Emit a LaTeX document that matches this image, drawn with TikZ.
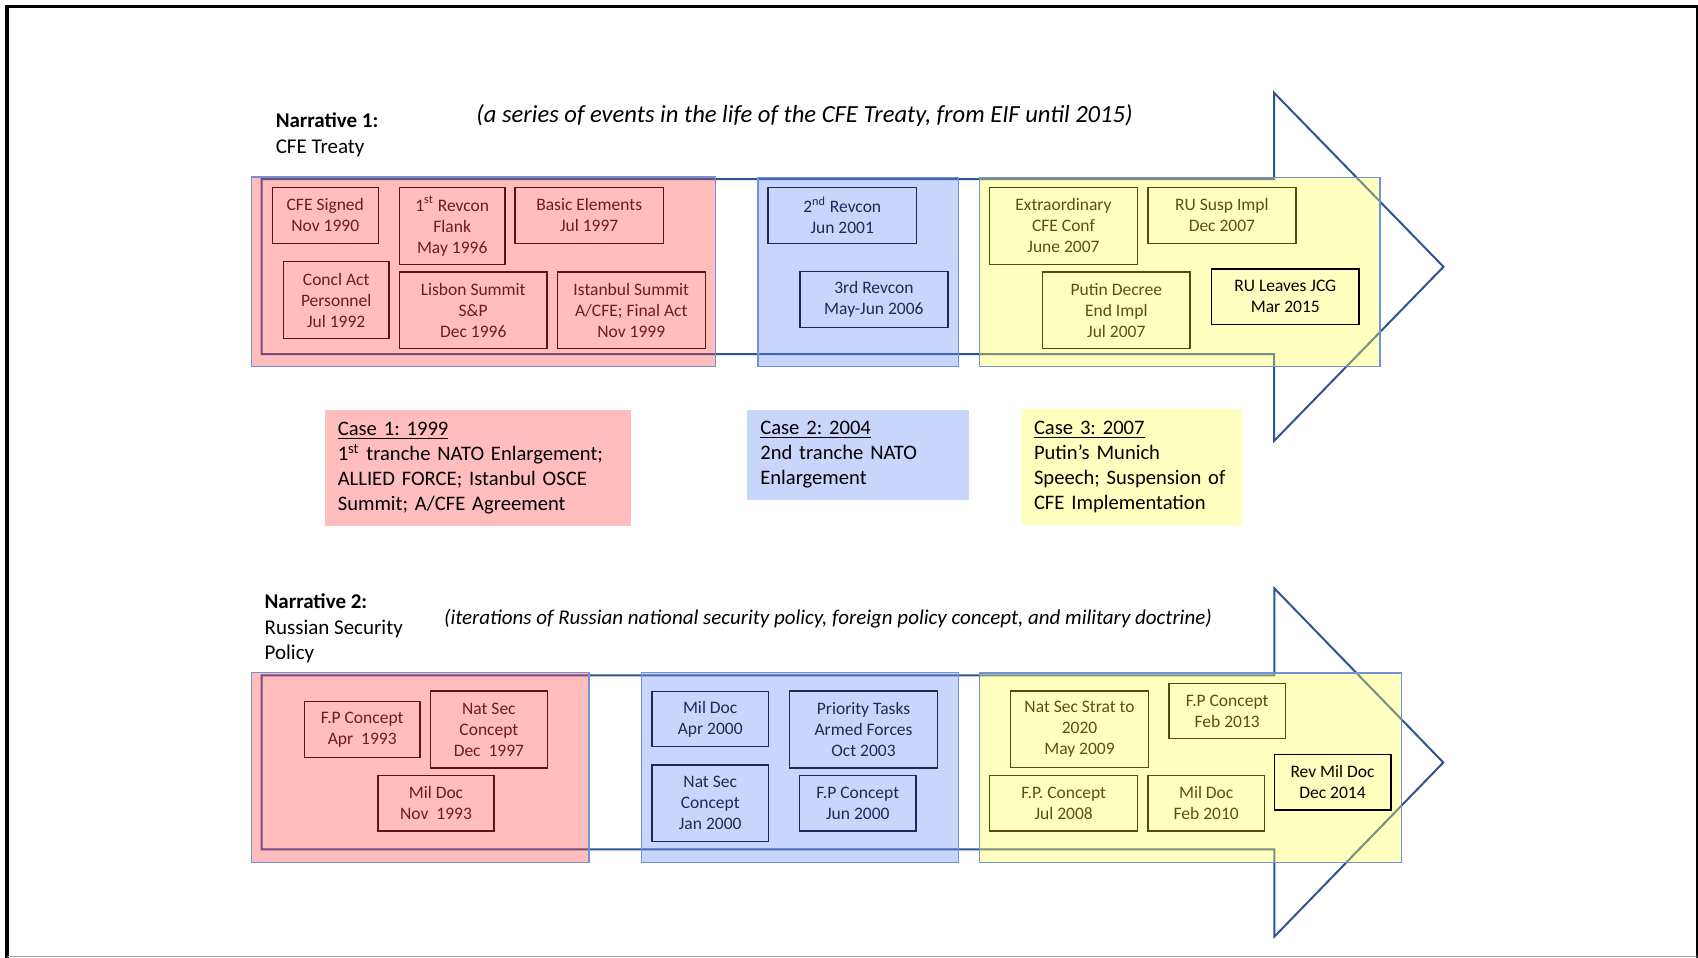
\documentclass[tikz,border=0pt]{standalone}
\usepackage{fontspec}
\setmainfont{Carlito}
\frenchspacing
\newcommand{\evfont}{\fontsize{8.75}{10.5}\selectfont}
\newcommand{\casefont}{\fontsize{10.3}{12.5}\selectfont}

\tikzset{every picture/.style={line width=0.75pt}}
\tikzset{
  sz/.style 2 args={minimum width=#1*0.5pt, minimum height=#2*0.5pt},
  evred/.style={draw={rgb, 255:red, 96; green, 18; blue, 18}, text={rgb, 255:red, 112; green, 26; blue, 26}, line width=0.7pt, inner sep=0pt, align=center, font=\evfont},
  evblue/.style={draw={rgb, 255:red, 30; green, 40; blue, 92}, text={rgb, 255:red, 30; green, 40; blue, 92}, line width=0.7pt, inner sep=0pt, align=center, font=\evfont},
  evyel/.style={draw={rgb, 255:red, 80; green, 76; blue, 14}, text={rgb, 255:red, 86; green, 82; blue, 18}, line width=0.7pt, inner sep=0pt, align=center, font=\evfont},
  evblack/.style={draw=black, text=black, line width=0.8pt, inner sep=0pt, align=center, font=\evfont},
  bgred/.style={fill={rgb, 255:red, 255; green, 66; blue, 66}, fill opacity=0.35, draw={rgb, 255:red, 114; green, 146; blue, 214}, line width=0.6pt},
  bgblue/.style={fill={rgb, 255:red, 98; green, 138; blue, 246}, fill opacity=0.35, draw={rgb, 255:red, 114; green, 146; blue, 214}, line width=0.6pt},
  bgyel/.style={fill={rgb, 255:red, 255; green, 255; blue, 75}, fill opacity=0.35, draw={rgb, 255:red, 114; green, 146; blue, 214}, line width=0.6pt},
  casebox/.style={inner xsep=6.5pt, inner ysep=0pt, align=left, text=black, font=\casefont},
  bigarrow/.style={draw={rgb, 255:red, 47; green, 84; blue, 150}, line width=1pt},
  title/.style={inner sep=0pt, align=left, anchor=west}
}

\begin{document}
\begin{tikzpicture}[x=0.5pt,y=0.5pt,yscale=-1,xscale=1]
\useasboundingbox (0,0) rectangle (1698,958);

%Shape: Frame
\draw [line width=1.75pt] (6.8,958) -- (6.8,6.7) -- (1698,6.7) ;
\draw [line width=1pt] (1697,6.7) -- (1697,958) ;
\draw [color={rgb, 255:red, 160; green, 160; blue, 160 }, line width=0.5pt] (6.8,956.8) -- (1697,956.8) ;

%Shape: Right Arrow (narrative 1)
\draw [bigarrow] (261.7,179) -- (1274,179) -- (1274,92.7) -- (1443.5,266.8) -- (1274,441) -- (1274,354) -- (261.7,354) -- cycle ;
%Shape: Right Arrow (narrative 2)
\draw [bigarrow] (261.6,675.3) -- (1274.3,675.3) -- (1274.3,588.3) -- (1443.3,762.5) -- (1274.3,936.7) -- (1274.3,849.3) -- (261.6,849.3) -- cycle ;

%Shape: Rectangle
\draw [bgred] (251.7,177) rectangle (715.7,366.7) ;
\draw [bgblue] (757.9,177.7) rectangle (958.3,366.7) ;
\draw [bgyel] (979.7,177.7) rectangle (1380,366.7) ;
%Shape: Rectangle
\draw [bgred] (251.5,672.7) rectangle (589,862.7) ;
\draw [bgblue] (641.7,672.7) rectangle (958.4,862.7) ;
\draw [bgyel] (979.7,673) rectangle (1401.3,862.3) ;

% Text Node
\node [title, font=\fontsize{10.5}{13.2}\selectfont] (nar1) at (275,134.9) {\textbf{Narrative 1:}\\CFE Treaty};
\node [title, font=\fontsize{12.3}{14}\selectfont\itshape] (sub1) at (475.7,115) {(a series of events in the life of the CFE Treaty, from EIF until 2015)};
\node [title, font=\fontsize{10.5}{12.6}\selectfont] (nar2) at (263.9,628.5) {\textbf{Narrative 2:}\\Russian Security\\Policy};
\node [title, font=\fontsize{10.5}{12}\selectfont\itshape] (sub2) at (443.4,618.3) {(iterations of Russian national security policy, foreign policy concept, and military doctrine)};

% Events: narrative 1
\node [evred, sz={106}{56}] (cfesig) at (325.3,215.3) {CFE Signed\\Nov 1990};
\node [evred, sz={105.7}{77}] (revone) at (452.2,225.8) {1\textsuperscript{st} Revcon\\Flank\\May 1996};
\node [evred, sz={148.3}{56}] (basic) at (589.2,215.3) {Basic Elements\\Jul 1997};
\node [evred, sz={105.7}{76.6}] (concl) at (336.2,300) {Concl Act\\Personnel\\Jul 1992};
\node [evred, sz={147.7}{76.7}] (lisbon) at (473.2,310.3) {Lisbon Summit\\S\&P\\Dec 1996};
\node [evred, sz={148}{76.7}] (istanbul) at (631.3,310.3) {Istanbul Summit\\A/CFE; Final Act\\Nov 1999};
\node [evblue, sz={148.3}{56}] (revtwo) at (842.2,215.3) {2\textsuperscript{nd} Revcon\\Jun 2001};
\node [evblue, sz={148.2}{55.6}] (revthree) at (873.9,299.5) {3rd Revcon\\May-Jun 2006};
\node [evyel, sz={147.7}{77}] (extra) at (1063.5,225.8) {Extraordinary\\CFE Conf\\June 2007};
\node [evyel, sz={147.8}{56}] (susp) at (1221.9,215.3) {RU Susp Impl\\Dec 2007};
\node [evyel, sz={147.3}{76.7}] (decree) at (1116.3,310.3) {Putin Decree\\End Impl\\Jul 2007};
\node [evblack, sz={147.8}{55.3}] (jcg) at (1285.3,296.7) {RU Leaves JCG\\Mar 2015};

% Cases
\node [casebox, fill={rgb, 255:red, 255; green, 189; blue, 189}, text width=140.1pt, minimum height=57.85pt] (case1) at (477.9,467.9) {\underline{Case 1: 1999}\\1\textsuperscript{st} tranche NATO Enlargement;\\ALLIED FORCE; Istanbul OSCE\\Summit; A/CFE Agreement};
\node [casebox, fill={rgb, 255:red, 201; green, 214; blue, 252}, text width=97.6pt, minimum height=44.85pt] (case2) at (857.9,454.9) {\underline{Case 2: 2004}\\2nd tranche NATO\\Enlargement};
\node [casebox, fill={rgb, 255:red, 255; green, 255; blue, 192}, text width=97.5pt, minimum height=57.85pt] (case3) at (1131.5,467.2) {\underline{Case 3: 2007}\\Putin’s Munich\\Speech; Suspension of\\CFE Implementation};

% Events: narrative 2
\node [evred, sz={115.7}{55.6}] (fpninetythree) at (362.2,729.5) {F.P Concept\\Apr~ 1993};
\node [evred, sz={116.7}{77}] (nsninetyseven) at (488.9,729.5) {Nat Sec\\Concept\\Dec~ 1997};
\node [evred, sz={115.7}{55.3}] (mdninetythree) at (436,803.3) {Mil Doc\\Nov~ 1993};
\node [evblue, sz={116.7}{55.4}] (mdtwok) at (710.2,719) {Mil Doc\\Apr 2000};
\node [evblue, sz={147.8}{77}] (prio) at (863.5,729.5) {Priority Tasks\\Armed Forces\\Oct 2003};
\node [evblue, sz={116.7}{76.7}] (nstwok) at (710.2,803.3) {Nat Sec\\Concept\\Jan 2000};
\node [evblue, sz={116.1}{55.3}] (fptwok) at (857.8,803.3) {F.P Concept\\Jun 2000};
\node [evyel, sz={137.6}{76.7}] (nss) at (1079.5,729.3) {Nat Sec Strat to\\2020\\May 2009};
\node [evyel, sz={116.3}{55}] (fpthirteen) at (1227.2,711.2) {F.P Concept\\Feb 2013};
\node [evyel, sz={148}{55.3}] (fpeight) at (1063.7,803.3) {F.P. Concept\\Jul 2008};
\node [evyel, sz={116.3}{55.3}] (mdten) at (1206.2,803.3) {Mil Doc\\Feb 2010};
\node [evblack, sz={116.4}{55.4}] (revmd) at (1332.5,782) {Rev Mil Doc\\Dec 2014};

\end{tikzpicture}
\end{document}
